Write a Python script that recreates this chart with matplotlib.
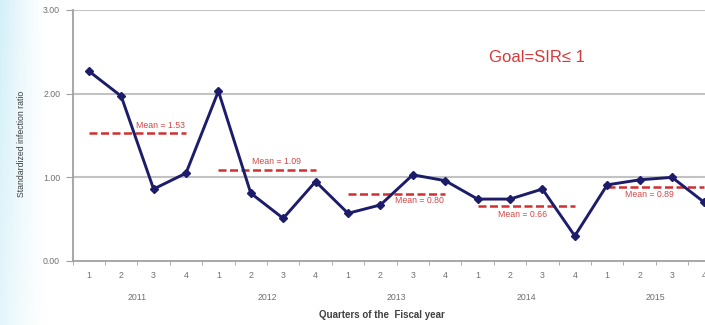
import numpy as np
import matplotlib
matplotlib.use("Agg")
import matplotlib.pyplot as plt
from matplotlib.transforms import blended_transform_factory

plt.rcParams['font.family'] = ['Liberation Sans', 'DejaVu Sans']

years = ["2011", "2012", "2013", "2014", "2015"]
quarters = ["1", "2", "3", "4"]
sir = [2.27, 1.97, 0.86, 1.05,
       2.03, 0.81, 0.51, 0.95,
       0.57, 0.67, 1.03, 0.96,
       0.74, 0.74, 0.86, 0.30,
       0.91, 0.97, 1.00, 0.70]
means = [1.53, 1.09, 0.80, 0.66, 0.89]
mean_labels = ["Mean = 1.53", "Mean = 1.09", "Mean = 0.80", "Mean = 0.66", "Mean = 0.89"]
mean_label_pos = [(2.2, 1.62), (5.8, 1.19), (10.2, 0.72), (13.4, 0.56), (17.3, 0.79)]
yticks = [0.0, 1.0, 2.0, 3.0]

W, H = 705, 325
fig = plt.figure(figsize=(W / 100, H / 100), dpi=100)

# left light-blue gradient background
bg = fig.add_axes([0, 0, 1, 1], zorder=-10)
gx = np.linspace(0, 1, 400)
gy = np.linspace(0, 1, 100)[:, None]
a = np.clip(1 - gx / 0.065, 0, 1)[None, :] ** 1.3 * (0.6 + 0.4 * gy)
img = np.ones((100, 400, 3))
img[:, :, 0] = 1 - 0.17 * a
img[:, :, 1] = 1 - 0.06 * a
img[:, :, 2] = 1 - 0.025 * a
bg.imshow(img, aspect='auto', extent=[0, 1, 0, 1], origin='lower')
bg.axis('off')

ax = fig.add_axes([72.6 / W, 64 / H, 648 / W, 251 / H])
ax.patch.set_alpha(0)

x = np.arange(len(sir))
ax.set_xlim(-0.5, len(sir) - 0.5)
ax.set_ylim(0, 3)

for yv in yticks[1:]:
    ax.axhline(yv, color='#c2c2c2', lw=1.5, zorder=1)

ax.plot(x, sir, color='#1c1c6b', lw=2.1, marker='D', ms=4, zorder=4)

for i, m in enumerate(means):
    ax.plot([4 * i, 4 * i + 3], [m, m], color='#d03030', lw=1.8,
            dashes=(3.2, 1.4), zorder=3)
    lx, ly = mean_label_pos[i]
    ax.text(lx, ly, mean_labels[i], color='#d04848', fontsize=6.3,
            ha='center', va='center', zorder=5)

fig.text(537 / W, 1 - 57 / H, "Goal=SIR\u2264 1", color='#d43a3a', fontsize=12,
         ha='center', va='center')

for s in ['top', 'right']:
    ax.spines[s].set_visible(False)
ax.spines['left'].set_color('#a0a0a0')
ax.spines['left'].set_linewidth(1.3)
ax.spines['bottom'].set_color('#a0a0a0')
ax.spines['bottom'].set_linewidth(1.3)

ax.set_yticks(yticks)
ax.set_yticklabels(["%.2f" % v for v in yticks], fontsize=6.3, color='#707070')
ax.tick_params(axis='y', length=5, color='#a0a0a0', pad=4)

ax.set_xticks(x)
ax.set_xticklabels(quarters * len(years), fontsize=6.3, color='#707070')
ax.tick_params(axis='x', length=0, pad=7)
ax.set_xticks(np.arange(-0.5, len(sir), 1.0), minor=True)
ax.tick_params(axis='x', which='minor', length=3, color='#a0a0a0', direction='out')

trans = blended_transform_factory(ax.transData, fig.transFigure)
for i, yr in enumerate(years):
    ax.text(4 * i + 1.5, 1 - 297 / H, yr, transform=trans, fontsize=6.3,
            color='#707070', ha='center', va='center')

fig.text(382 / W, 1 - 315 / H, "Quarters of the  Fiscal year", fontsize=7,
         fontweight='bold', color='#404040', ha='center', va='center')
fig.text(22 / W, 1 - 144 / H, "Standardized infection ratio", fontsize=6.3,
         color='#404040', rotation=90, ha='center', va='center')

fig.savefig("out.png", dpi=100)
